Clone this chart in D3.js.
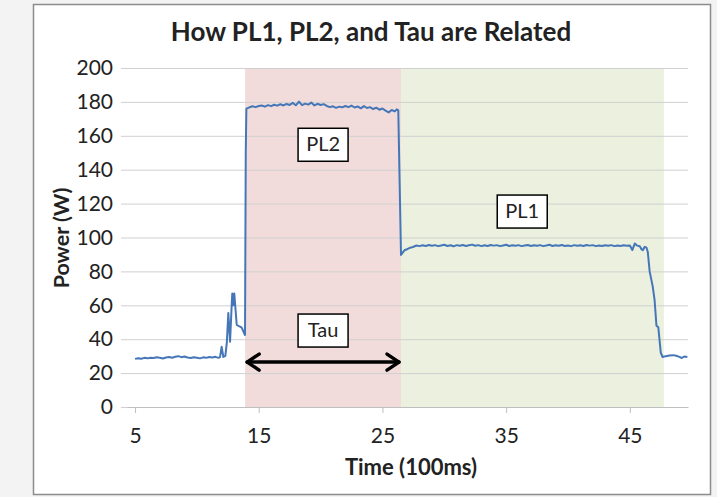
<!DOCTYPE html>
<html>
<head>
<meta charset="utf-8">
<script src="https://cdn.jsdelivr.net/npm/d3@7"></script>
<style>
  body { margin: 0; background: #f3f3f3; }
  text { font-family: Lato, "Open Sans", sans-serif; fill: #222; }
</style>
</head>
<body>
<div id="chart"></div>
<script>
// power trace: [time (100ms), watts]
const trace = [
  [5.0,28.4],[5.25,28.8],[5.5,28.5],[5.75,29.0],[6.0,28.7],[6.25,29.1],[6.5,28.9],[6.75,29.3],
  [7.0,29.0],[7.25,28.6],[7.5,29.2],[7.75,29.5],[8.0,29.1],[8.25,29.6],[8.5,30.0],[8.75,29.4],
  [9.0,29.8],[9.25,29.2],[9.5,28.9],[9.75,29.4],[10.0,29.1],[10.25,28.7],[10.5,29.3],[10.75,29.0],
  [11.0,29.5],[11.25,29.2],[11.5,29.6],[11.75,29.0],[11.87,29.4],
  [12.0,35.5],[12.14,29.5],[12.3,30.2],[12.42,38.0],[12.54,55.5],[12.68,38.5],[12.8,58.0],
  [12.86,67.0],[12.95,60.0],[13.02,67.0],[13.22,48.5],[13.45,47.5],[13.62,46.8],[13.89,42.5],
  [13.95,150.0],[14.0,176.0],
  [14.25,176.8],[14.5,177.4],[14.75,176.9],[15.0,177.6],[15.25,177.9],[15.5,177.2],[15.75,178.1],
  [16.0,177.5],[16.25,178.3],[16.5,177.8],[16.75,178.6],[17.0,177.9],[17.25,178.8],[17.5,178.2],
  [17.75,179.4],[18.0,178.0],[18.25,180.2],[18.5,178.1],[18.75,179.0],[19.0,178.4],[19.25,179.6],
  [19.5,177.9],[19.75,178.9],[20.0,178.2],[20.25,178.7],[20.5,177.6],[20.75,176.9],[21.0,177.4],
  [21.25,176.5],[21.5,177.2],[21.75,176.8],[22.0,177.6],[22.25,176.9],[22.5,177.8],[22.75,176.7],
  [23.0,177.3],[23.25,176.2],[23.5,177.5],[23.75,176.4],[24.0,176.9],[24.25,175.8],[24.5,176.6],
  [24.75,175.4],[25.0,176.1],[25.25,174.9],[25.5,173.8],[25.75,175.2],[26.0,174.4],[26.15,175.6],
  [26.28,175.0],[26.5,89.7],
  [26.65,91.2],[26.8,92.6],[27.0,93.1],[27.25,94.0],[27.46,94.4],[27.75,95.3],[28.0,94.9],
  [28.25,95.4],[28.5,95.0],[28.75,95.6],[29.0,95.1],[29.25,95.5],[29.5,94.9],[29.75,95.3],
  [30.0,95.7],[30.25,95.0],[30.5,95.4],[30.75,94.8],[31.0,95.5],[31.25,95.1],[31.5,95.6],
  [31.75,95.0],[32.0,95.4],[32.25,95.8],[32.5,95.1],[32.75,95.5],[33.0,94.9],[33.25,95.4],
  [33.5,95.0],[33.75,95.6],[34.0,95.2],[34.25,95.5],[34.5,94.9],[34.75,95.3],[35.0,95.7],
  [35.25,95.0],[35.5,95.4],[35.75,95.1],[36.0,95.5],[36.25,94.9],[36.5,95.3],[36.75,95.6],
  [37.0,95.0],[37.25,95.4],[37.5,95.1],[37.75,95.5],[38.0,94.9],[38.25,95.3],[38.5,95.7],
  [38.75,95.0],[39.0,95.4],[39.25,95.1],[39.5,95.6],[39.75,95.0],[40.0,95.3],[40.25,94.9],
  [40.5,95.5],[40.75,95.1],[41.0,95.4],[41.25,95.0],[41.5,95.6],[41.75,95.2],[42.0,95.5],
  [42.25,94.9],[42.5,95.3],[42.75,95.0],[43.0,95.4],[43.25,95.1],[43.5,95.5],[43.75,94.9],
  [44.0,95.3],[44.25,95.0],[44.5,95.4],[44.75,95.1],[45.0,95.3],[45.2,92.6],[45.4,96.5],
  [45.6,95.2],[45.8,94.8],[45.95,93.0],[46.05,92.5],[46.2,94.5],[46.35,94.0],[46.45,91.5],
  [46.6,80.0],[46.85,71.0],[47.0,63.0],[47.15,48.0],[47.3,47.0],[47.5,32.0],[47.65,29.5],
  [47.9,30.0],[48.2,30.4],[48.5,30.6],[48.75,30.2],[49.0,29.6],[49.2,28.9],[49.4,29.8],[49.65,29.5]
];

const xTicks = [5, 15, 25, 35, 45];
const yTicks = [0, 20, 40, 60, 80, 100, 120, 140, 160, 180, 200];
// phase boundaries: PL2 starts, PL2 ends / PL1 starts, PL1 ends
const phaseBounds = [13.9, 26.5, 47.75];
const phaseNames = ["PL2", "PL1"];
// label boxes: [text, time, watts]
const callouts = [["PL2", 20.2, 155], ["PL1", 36.3, 115.6], ["Tau", 20.2, 45.4]];
const tauLevel = 26.5;

const W = 717, H = 497;
const svg = d3.select("#chart").append("svg").attr("width", W).attr("height", H);

svg.append("rect").attr("x", 33.5).attr("y", 4.5).attr("width", 677).attr("height", 490)
  .attr("fill", "#fff").attr("stroke", "#8c8c8c").attr("stroke-width", 1.5);

const x = d3.scaleLinear().domain([4.35, 49.7]).range([127, 688]);
const y = d3.scaleLinear().domain([0, 200]).range([407, 68]);

// shaded phases
const shade = ["#f2dcdb", "#ebf1de"];
svg.selectAll(".phase").data(phaseNames).enter().append("rect")
  .attr("x", (d, i) => x(phaseBounds[i]))
  .attr("width", (d, i) => x(phaseBounds[i + 1]) - x(phaseBounds[i]))
  .attr("y", y(200)).attr("height", y(0) - y(200))
  .attr("fill", (d, i) => shade[i]);

// gridlines + y axis
const yAxis = svg.append("g").attr("transform", `translate(${x.range()[0]},0)`)
  .call(d3.axisLeft(y).tickValues(yTicks).tickSize(-(x.range()[1] - x.range()[0])).tickSizeOuter(0));
yAxis.select(".domain").remove();
yAxis.selectAll(".tick line").attr("stroke", "#d0d0d0").attr("x1", -6);
yAxis.selectAll(".tick text").attr("x", -14).style("font-size", "21px").attr("fill", "#222");

const xAxis = svg.append("g").attr("transform", `translate(0,${y(0)})`)
  .call(d3.axisBottom(x).tickValues(xTicks).tickSize(6).tickSizeOuter(0));
xAxis.select(".domain").attr("stroke", "#bfbfbf");
xAxis.selectAll(".tick line").attr("stroke", "#bfbfbf");
xAxis.selectAll(".tick text").attr("y", 21).style("font-size", "21px").attr("fill", "#222");

// trace
const line = d3.line().x(d => x(d[0])).y(d => y(d[1]));
svg.append("path").datum(trace).attr("d", line)
  .attr("fill", "none").attr("stroke", "#4577b8").attr("stroke-width", 2)
  .attr("stroke-linejoin", "round");

// tau arrow
const ay = y(tauLevel), ax0 = x(phaseBounds[0]) + 2, ax1 = x(phaseBounds[1]) - 2;
const arrow = svg.append("g").attr("stroke", "#000").attr("stroke-width", 3.5).attr("fill", "none")
  .attr("stroke-linecap", "round").attr("stroke-linejoin", "round");
arrow.append("line").attr("x1", ax0).attr("x2", ax1).attr("y1", ay).attr("y2", ay);
arrow.append("path").attr("d", `M${ax0 + 12},${ay - 8}L${ax0},${ay}L${ax0 + 12},${ay + 8}`);
arrow.append("path").attr("d", `M${ax1 - 12},${ay - 8}L${ax1},${ay}L${ax1 - 12},${ay + 8}`);

// callout boxes
const box = svg.selectAll(".callout").data(callouts).enter().append("g")
  .attr("transform", d => `translate(${x(d[1])},${y(d[2])})`);
box.append("rect").attr("x", -25).attr("y", -16).attr("width", 50).attr("height", 33)
  .attr("fill", "#fff").attr("stroke", "#000").attr("stroke-width", 1.5);
box.append("text").text(d => d[0]).attr("text-anchor", "middle").attr("dy", "0.36em")
  .style("font-size", "20px");

// titles
svg.append("text").attr("x", 371).attr("y", 41).attr("text-anchor", "middle")
  .style("font-size", "26px").style("font-weight", "bold").text("How PL1, PL2, and Tau are Related");
svg.append("text").attr("transform", "translate(69,238) rotate(-90)").attr("text-anchor", "middle")
  .style("font-size", "21.5px").style("font-weight", "bold").text("Power (W)");
svg.append("text").attr("x", 411).attr("y", 475).attr("text-anchor", "middle")
  .style("font-size", "22px").style("font-weight", "bold").text("Time (100ms)");
</script>
</body>
</html>
